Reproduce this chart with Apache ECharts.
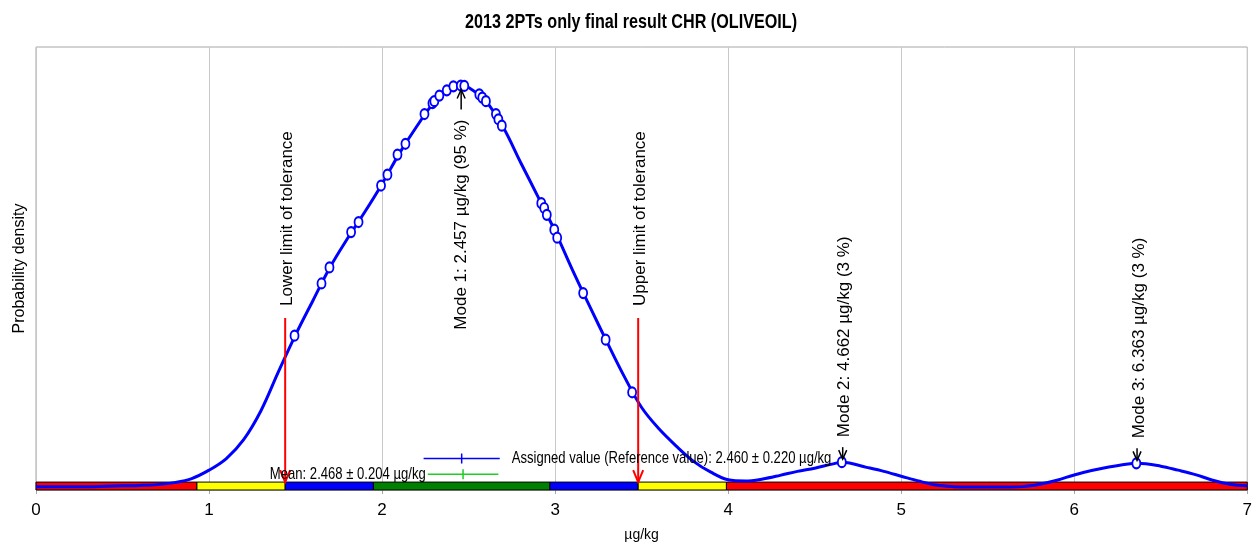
<!DOCTYPE html>
<html>
<head>
<meta charset="utf-8">
<script src="https://cdn.jsdelivr.net/npm/echarts@6/dist/echarts.min.js"></script>
<style>
  html, body { margin: 0; padding: 0; background: #fff; }
  #chart { width: 1255px; height: 547px; }
</style>
</head>
<body>
<div id="chart"></div>
<script>
// Kernel density of the reported results (relative density, peak = 1)
const curveX = [0, 0.1, 0.2, 0.3, 0.4, 0.5, 0.6, 0.7, 0.8, 0.9, 1.0, 1.1, 1.2, 1.3, 1.4, 1.5, 1.6, 1.7, 1.8,
  1.9, 2.0, 2.1, 2.2, 2.3, 2.4, 2.457, 2.5, 2.6, 2.7, 2.8, 2.9, 3.0, 3.1, 3.2, 3.3, 3.4, 3.5, 3.6, 3.7, 3.8,
  3.9, 4.0, 4.1, 4.2, 4.3, 4.4, 4.5, 4.6, 4.662, 4.8, 4.9, 5.0, 5.1, 5.2, 5.3, 5.4, 5.5, 5.6, 5.7, 5.8,
  5.9, 6.0, 6.1, 6.2, 6.3, 6.363, 6.5, 6.6, 6.7, 6.8, 6.9, 7.0];
const curveY = [0.001, 0.001, 0.001, 0.001, 0.002, 0.003, 0.004, 0.006, 0.011, 0.021, 0.042, 0.071, 0.118,
  0.190, 0.286, 0.379, 0.464, 0.548, 0.619, 0.685, 0.755, 0.831, 0.898, 0.958, 0.995, 1.000, 0.995, 0.961,
  0.896, 0.809, 0.724, 0.637, 0.541, 0.450, 0.361, 0.275, 0.198, 0.145, 0.102, 0.064, 0.037, 0.018, 0.015,
  0.020, 0.029, 0.039, 0.047, 0.057, 0.062, 0.049, 0.039, 0.027, 0.015, 0.005, 0.001, 0.000, 0.000, 0.000,
  0.001, 0.007, 0.017, 0.030, 0.041, 0.050, 0.057, 0.059, 0.052, 0.042, 0.031, 0.017, 0.007, 0.003];

// Individual laboratory results, placed on the density curve
const resultX = [1.494, 1.650, 1.696, 1.821, 1.864, 1.994, 2.031, 2.089, 2.135, 2.245, 2.291, 2.302, 2.331,
  2.374, 2.412, 2.455, 2.475, 2.562, 2.579, 2.600, 2.658, 2.672, 2.692, 2.920, 2.937, 2.952, 2.995, 3.012,
  3.162, 3.292, 3.445, 4.657, 6.359];
const resultY = [0.377, 0.507, 0.547, 0.635, 0.660, 0.751, 0.778, 0.828, 0.855, 0.929, 0.956, 0.961, 0.975,
  0.988, 0.998, 1.000, 0.999, 0.978, 0.970, 0.961, 0.929, 0.916, 0.900, 0.707, 0.695, 0.678, 0.641, 0.621,
  0.483, 0.367, 0.236, 0.062, 0.059];

// Score zones along the axis (edges in µg/kg) and their zone type
const zoneEdges = [0, 0.93, 1.44, 1.95, 2.97, 3.48, 3.99, 7];
const zoneKind = [3, 2, 1, 0, 1, 2, 3];

// Tolerance limits
const limitX = [1.44, 3.48];
const limitText = ['Lower limit of tolerance', 'Upper limit of tolerance'];

// Modes of the density
const modeX = [2.457, 4.662, 6.363];
const modeY = [1.000, 0.062, 0.059];
const modeShare = [95, 3, 3];

// Assigned value and mean with their uncertainties
const refName = ['Assigned value (Reference value)', 'Mean'];
const refValue = [2.460, 2.468];
const refUnc = [0.220, 0.204];
const refLevel = [0.071, 0.032];

const xTicks = [0, 1, 2, 3, 4, 5, 6, 7];
const unit = 'µg/kg';

// ---- styling ----
const FONT = '"Liberation Sans", Arial, sans-serif';
const ZONE_COLORS = ['#008000', '#0000ff', '#ffff00', '#ff0000'];
const REF_COLORS = ['#0000ff', '#22cc22'];
const Y_MIN = -0.0074, Y_MAX = 1.096;
const BAND_TOP = 0.0123;
const LIMIT_TOP = 0.421;
const SQUEEZE = 0.77;

const chart = echarts.init(document.getElementById('chart'), null, { renderer: 'canvas' });

function arrow(x, yTail, yTip, color, lw, hw, hl) {
  const dir = yTip > yTail ? 1 : -1;
  return [
    { type: 'line', shape: { x1: x, y1: yTail, x2: x, y2: yTip }, style: { stroke: color, lineWidth: lw } },
    { type: 'polyline', shape: { points: [[x - hw, yTip - dir * hl], [x, yTip], [x + hw, yTip - dir * hl]] },
      style: { stroke: color, lineWidth: lw, fill: null } }
  ];
}

const zoneData = zoneKind.map((k, i) => [zoneEdges[i], zoneEdges[i + 1], k]);

const option = {
  animation: false,
  backgroundColor: '#fff',
  textStyle: { fontFamily: FONT },
  graphic: [{
    type: 'text', x: 631, y: 22, scaleX: SQUEEZE,
    style: { text: '2013 2PTs only final result CHR (OLIVEOIL)', font: 'bold 21px ' + FONT,
      fill: '#000', align: 'center', verticalAlign: 'middle' }
  }],
  grid: { left: 36, right: 6, top: 47, bottom: 52, show: true, borderColor: '#a6a6a6', borderWidth: 1 },
  xAxis: {
    type: 'value', min: xTicks[0], max: xTicks[xTicks.length - 1], interval: 1,
    name: unit, nameLocation: 'middle', nameGap: 38,
    nameTextStyle: { fontSize: 14, color: '#000', fontFamily: FONT },
    axisLine: { show: false },
    axisTick: { show: true, length: 7, lineStyle: { color: '#a6a6a6' } },
    axisLabel: { fontSize: 17, color: '#000', margin: 12, fontFamily: FONT },
    splitLine: { show: true, lineStyle: { color: '#c8c8c8', width: 1 } }
  },
  yAxis: {
    type: 'value', min: Y_MIN, max: Y_MAX,
    name: 'Probability density', nameLocation: 'middle', nameGap: 8,
    nameTextStyle: { fontSize: 16, color: '#000', fontFamily: FONT },
    axisLine: { show: false }, axisTick: { show: false }, axisLabel: { show: false },
    splitLine: { show: false }
  },
  series: [
    {
      // score zones
      type: 'custom', z: 2, data: zoneData, encode: { x: [0, 1] },
      renderItem(params, api) {
        const p0 = api.coord([api.value(0), BAND_TOP]);
        const p1 = api.coord([api.value(1), Y_MIN]);
        return { type: 'rect', shape: { x: p0[0], y: p0[1], width: p1[0] - p0[0], height: p1[1] - p0[1] },
          style: { fill: ZONE_COLORS[api.value(2)], stroke: '#000', lineWidth: 1 } };
      }
    },
    {
      // tolerance limits
      type: 'custom', z: 5, data: limitX.map((x, i) => [x, i]), encode: { x: 0 },
      renderItem(params, api) {
        const x = api.value(0);
        const top = api.coord([x, LIMIT_TOP]);
        const tip = api.coord([x, BAND_TOP]);
        return { type: 'group', children: arrow(top[0], top[1], tip[1], '#ff0000', 2, 5, 12).concat([{
          type: 'text', x: top[0] + 2, y: top[1] - 12, rotation: Math.PI / 2,
          style: { text: limitText[api.value(1)], font: '17px ' + FONT, fill: '#000',
            align: 'left', verticalAlign: 'middle' }
        }]) };
      }
    },
    {
      // density curve
      type: 'line', z: 3, data: curveX.map((x, i) => [x, curveY[i]]),
      smooth: 0.35, showSymbol: false, lineStyle: { color: '#0000ff', width: 3 }
    },
    {
      // results
      type: 'scatter', z: 4, data: resultX.map((x, i) => [x, resultY[i]]),
      symbol: 'circle', symbolSize: [8, 10],
      itemStyle: { color: '#fff', borderColor: '#0000ff', borderWidth: 2, opacity: 1 }
    },
    {
      // modes
      type: 'custom', z: 6, data: modeX.map((x, i) => [x, modeY[i], modeShare[i], i]), encode: { x: 0, y: 1 },
      renderItem(params, api) {
        const x = api.value(0);
        const p = api.coord([x, api.value(1)]);
        const txt = 'Mode ' + (api.value(3) + 1) + ': ' + x.toFixed(3) + ' ' + unit + ' (' + api.value(2) + ' %)';
        if (api.value(3) === 0) {
          const tip = p[1] + 4, tail = tip + 20;
          return { type: 'group', children: arrow(p[0], tail, tip, '#000', 1.5, 4, 9).concat([{
            type: 'text', x: p[0], y: tail + 10, rotation: Math.PI / 2,
            style: { text: txt, font: '17px ' + FONT, fill: '#000', align: 'right', verticalAlign: 'middle' }
          }]) };
        }
        const tip = p[1] - 3, tail = tip - 12;
        return { type: 'group', children: arrow(p[0], tail, tip, '#000', 1.5, 4, 9).concat([{
          type: 'text', x: p[0] + 2, y: tail - 10, rotation: Math.PI / 2,
          style: { text: txt, font: '17px ' + FONT, fill: '#000', align: 'left', verticalAlign: 'middle' }
        }]) };
      }
    },
    {
      // assigned value and mean with uncertainty
      type: 'custom', z: 7, data: refValue.map((v, i) => [v, refUnc[i], refLevel[i], i]), encode: { x: 0, y: 2 },
      renderItem(params, api) {
        const v = api.value(0), u = api.value(1), lvl = api.value(2), i = api.value(3);
        const a = api.coord([v - u, lvl]), b = api.coord([v + u, lvl]), c = api.coord([v, lvl]);
        const col = REF_COLORS[i];
        const label = refName[i] + ': ' + v.toFixed(3) + ' ± ' + u.toFixed(3) + ' ' + unit;
        const right = i === 0;
        return { type: 'group', children: [
          { type: 'line', shape: { x1: a[0], y1: a[1], x2: b[0], y2: b[1] }, style: { stroke: col, lineWidth: 1.5 } },
          { type: 'line', shape: { x1: c[0], y1: c[1] - 5, x2: c[0], y2: c[1] + 5 }, style: { stroke: col, lineWidth: 1.5 } },
          { type: 'text', x: right ? b[0] + 12 : a[0] - 2, y: c[1], scaleX: SQUEEZE,
            style: { text: label, font: '17px ' + FONT, fill: '#000',
              align: right ? 'left' : 'right', verticalAlign: 'middle' } }
        ] };
      }
    }
  ]
};

chart.setOption(option);
</script>
</body>
</html>
